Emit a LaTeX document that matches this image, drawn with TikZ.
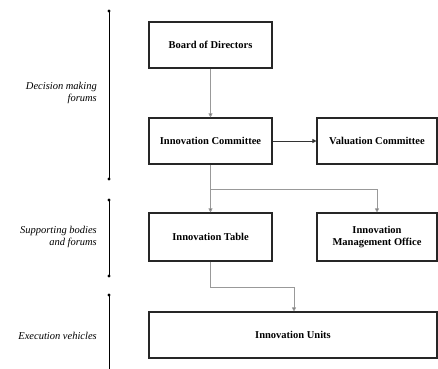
\documentclass[tikz,border=0pt]{standalone}
\usepackage{fontspec}
\setmainfont{Liberation Serif}
\usetikzlibrary{arrows.meta}
\begin{document}
\begin{tikzpicture}[x=1pt,y=-1pt,
  box/.style={draw=black!85,line width=1.1pt,fill=white,font=\bfseries\fontsize{10.5}{11.5}\selectfont,align=center,inner sep=0pt},
  glink/.style={draw=black!40,line width=0.9pt,-{Triangle[length=4pt,width=4pt,fill=black!80]}},
  dlink/.style={draw=black!80,line width=0.8pt,-{Triangle[length=4pt,width=4pt]}},
  bar/.style={draw=black,line width=0.8pt},
  lab/.style={font=\itshape\fontsize{10.5}{12}\selectfont,align=right,anchor=east,inner sep=0pt}]
\useasboundingbox (0,0) rectangle (438,368);
% boxes
\node[box,minimum width=123pt,minimum height=46pt] (bod) at (210.5,45) {Board of Directors};
\node[box,minimum width=123pt,minimum height=46pt] (ic) at (210.5,141) {Innovation Committee};
\node[box,minimum width=120pt,minimum height=46pt] (vc) at (377,141) {Valuation Committee};
\node[box,minimum width=123pt,minimum height=48pt] (it) at (210.5,237) {Innovation Table};
\node[box,minimum width=120pt,minimum height=48pt] (imo) at (377,237) {Innovation\\Management Office};
\node[box,minimum width=288pt,minimum height=46pt] (iu) at (293,335) {Innovation Units};
% connectors
\draw[glink] (bod) -- (ic);
\draw[dlink] (ic) -- (vc);
\coordinate (br) at (210.5,189);
\draw[glink] (ic.south) -- (it.north);
\draw[glink] (br) -| (imo.north);
\draw[glink] (it.south) |- (294,287) -- (iu.north -| 294,0);
% left bars
\coordinate (a1) at (109,11); \coordinate (a2) at (109,179);
\coordinate (b1) at (109,200); \coordinate (b2) at (109,276);
\coordinate (c1) at (109,295); \coordinate (c2) at (109,370);
\draw[bar] (a1) -- (a2); \draw[bar] (b1) -- (b2); \draw[bar] (c1) -- (c2);
\foreach \p in {a1,a2,b1,b2,c1} \fill (\p) circle (1.6pt);
\node[lab] (l1) at (97,93) {Decision making\\forums};
\node[lab] (l2) at (97,237) {Supporting bodies\\and forums};
\node[lab] (l3) at (97,336) {Execution vehicles};
\end{tikzpicture}
\end{document}
